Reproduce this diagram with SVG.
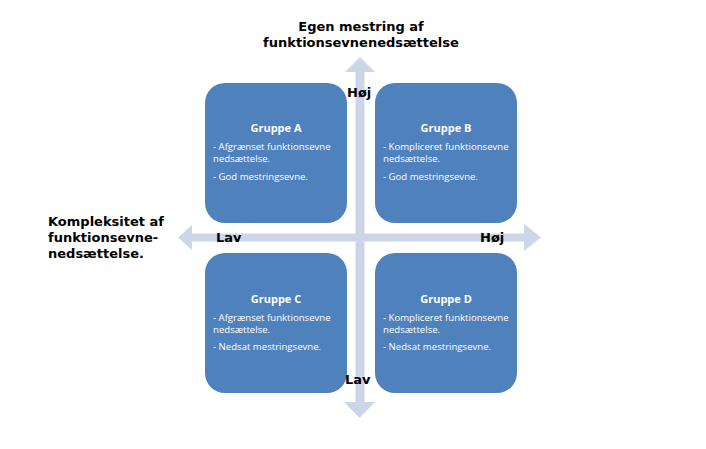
<svg xmlns="http://www.w3.org/2000/svg" width="706" height="449" viewBox="0 0 706 449">
<style>
.box{fill:#4F81BD}
.arr{fill:#CCD6E8}
.ax{font-family:"DejaVu Sans",Verdana,sans-serif;font-weight:bold;font-size:13px;fill:#000}
.t{font-family:"Open Sans","Liberation Sans",sans-serif;fill:#fff;font-size:9.6px}
.h{font-weight:bold;font-size:11px;text-anchor:middle}
</style>
<rect width="706" height="449" fill="#fff"/>
<g id="connectors">
<path class="arr" d="M355.5,72 L345,72 L360,57 L375,72 L364.5,72 L364.5,402 L375,402 L359.5,418 L344,402 L355.5,402 Z"/>
<path class="arr" d="M192,233.5 L192,225 L178,237.5 L192,250 L192,241.5 L524,241.5 L524,251 L541,237.5 L524,224 L524,233.5 Z"/>
</g>
<g id="groupA">
<rect class="box" x="205" y="83" width="142" height="140" rx="20"/>
<text class="t h" x="276" y="132">Gruppe A</text>
<text class="t" x="213" y="150">- Afgrænset funktionsevne</text>
<text class="t" x="213" y="162">nedsættelse.</text>
<text class="t" x="213" y="180">- God mestringsevne.</text>
</g>
<g id="groupB">
<rect class="box" x="375" y="83" width="142" height="140" rx="20"/>
<text class="t h" x="446" y="132">Gruppe B</text>
<text class="t" x="383" y="150">- Kompliceret funktionsevne</text>
<text class="t" x="383" y="162">nedsættelse.</text>
<text class="t" x="383" y="180">- God mestringsevne.</text>
</g>
<g id="groupC">
<rect class="box" x="205" y="253" width="142" height="140" rx="20"/>
<text class="t h" x="276" y="303">Gruppe C</text>
<text class="t" x="213" y="321">- Afgrænset funktionsevne</text>
<text class="t" x="213" y="333">nedsættelse.</text>
<text class="t" x="213" y="350">- Nedsat mestringsevne.</text>
</g>
<g id="groupD">
<rect class="box" x="375" y="253" width="142" height="140" rx="20"/>
<text class="t h" x="446" y="303">Gruppe D</text>
<text class="t" x="383" y="321">- Kompliceret funktionsevne</text>
<text class="t" x="383" y="333">nedsættelse.</text>
<text class="t" x="383" y="350">- Nedsat mestringsevne.</text>
</g>
<g id="labels">
<text class="ax" x="361" y="31" text-anchor="middle">Egen mestring af</text>
<text class="ax" x="361" y="47" text-anchor="middle">funktionsevnenedsættelse</text>
<text class="ax" x="48" y="226">Kompleksitet af</text>
<text class="ax" x="48" y="242">funktionsevne-</text>
<text class="ax" x="48" y="258">nedsættelse.</text>
<text class="ax" x="347" y="97">Høj</text>
<text class="ax" x="216" y="242">Lav</text>
<text class="ax" x="480" y="242">Høj</text>
<text class="ax" x="345" y="384">Lav</text>
</g>
</svg>
